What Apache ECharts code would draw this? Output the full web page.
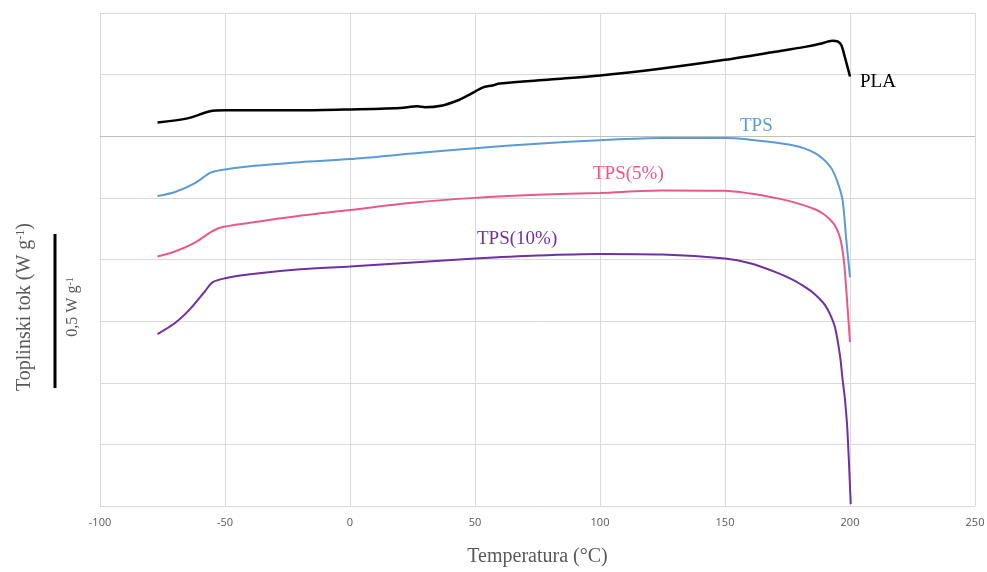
<!DOCTYPE html>
<html>
<head>
<meta charset="utf-8">
<title>DSC krivulje</title>
<script src="https://cdn.jsdelivr.net/npm/echarts@6/dist/echarts.min.js"></script>
<style>
html, body { margin: 0; padding: 0; background: #fff; }
#chart { width: 987px; height: 572px; }
</style>
</head>
<body>
<div id="chart"></div>
<script>
// x ticks
const tempTicks = [-100, -50, 0, 50, 100, 150, 200, 250];

// PLA
const plaTemp = [-77, -65, -56, -50, -20, 0, 20, 27, 30, 37, 43, 47, 50, 53, 57, 60, 80, 100, 124, 150, 170, 182, 188, 191, 193, 195, 196.5, 198, 200];
const plaFlow = [0.045, 0.058, 0.081, 0.084, 0.084, 0.087, 0.092, 0.097, 0.094, 0.100, 0.116, 0.132, 0.145, 0.158, 0.165, 0.171, 0.184, 0.197, 0.219, 0.248, 0.274, 0.290, 0.300, 0.307, 0.310, 0.308, 0.296, 0.255, 0.194];

// TPS
const tpsTemp = [-77, -70, -62, -56, -52, -40, -20, 0, 25, 50, 75, 100, 125, 150, 160, 170, 177, 182, 186, 189, 191, 193, 195, 197, 198.5, 200];
const tpsFlow = [-0.194, -0.181, -0.152, -0.119, -0.110, -0.097, -0.084, -0.074, -0.056, -0.039, -0.024, -0.013, -0.006, -0.006, -0.011, -0.020, -0.029, -0.040, -0.055, -0.072, -0.088, -0.110, -0.148, -0.206, -0.335, -0.458];

// TPS(5%)
const tps5Temp = [-77, -70, -62, -56, -52, -40, -20, 0, 25, 50, 75, 100, 125, 150, 160, 170, 177, 182, 186, 189, 192, 194, 196, 197.5, 198.5, 200];
const tps5Flow = [-0.390, -0.374, -0.345, -0.313, -0.297, -0.281, -0.258, -0.239, -0.216, -0.200, -0.190, -0.184, -0.176, -0.177, -0.186, -0.200, -0.213, -0.225, -0.237, -0.250, -0.270, -0.290, -0.329, -0.400, -0.497, -0.668];

// TPS(10%)
const tps10Temp = [-77, -70, -64, -58, -55, -50, -40, -20, 0, 25, 50, 75, 100, 125, 150, 160, 170, 177, 181, 185, 188, 190, 192, 194, 196, 197, 198, 199, 200.3];
const tps10Flow = [-0.642, -0.606, -0.561, -0.503, -0.474, -0.461, -0.448, -0.432, -0.423, -0.410, -0.397, -0.387, -0.382, -0.384, -0.397, -0.412, -0.440, -0.465, -0.484, -0.506, -0.529, -0.548, -0.577, -0.620, -0.712, -0.787, -0.855, -0.960, -1.194];

const zip = (xs, ys) => xs.map((x, i) => [x, ys[i]]);

const serif = '"Liberation Serif", "DejaVu Serif", serif';
const gridColor = '#d9d9d9';

const makeLine = (name, color, width, data) => ({
  name: name,
  type: 'line',
  data: data,
  showSymbol: false,
  smooth: 0.3,
  lineStyle: { color: color, width: width },
  itemStyle: { color: color },
  z: 3
});

const chart = echarts.init(document.getElementById('chart'));

const option = {
  backgroundColor: '#fff',
  animation: false,
  grid: { left: 100, right: 12, top: 13, bottom: 66, outerBoundsMode: 'none' },
  xAxis: {
    type: 'value',
    min: tempTicks[0],
    max: tempTicks[tempTicks.length - 1],
    interval: 50,
    name: 'Temperatura (°C)',
    nameLocation: 'middle',
    nameGap: 41,
    nameTextStyle: { fontFamily: serif, fontSize: 20, color: '#595959' },
    axisLine: { show: true, lineStyle: { color: gridColor } },
    axisTick: { show: false },
    axisLabel: { color: '#595959', fontSize: 11, margin: 11, fontFamily: '"Open Sans", "Liberation Sans", sans-serif' },
    splitLine: { show: true, lineStyle: { color: gridColor } }
  },
  yAxis: {
    type: 'value',
    min: -1.2,
    max: 0.4,
    interval: 0.2,
    axisLine: { show: true, lineStyle: { color: gridColor } },
    axisTick: { show: false },
    axisLabel: { show: false },
    splitLine: { show: true, lineStyle: { color: gridColor } }
  },
  series: [
    Object.assign(makeLine('PLA', '#000000', 2.5, zip(plaTemp, plaFlow)), {
      markLine: {
        silent: true,
        symbol: 'none',
        label: { show: false },
        lineStyle: { color: '#bfbfbf', width: 1, type: 'solid' },
        data: [{ yAxis: 0 }],
        z: 1
      }
    }),
    makeLine('TPS', '#5b9bd5', 2, zip(tpsTemp, tpsFlow)),
    makeLine('TPS(5%)', '#e8598b', 2, zip(tps5Temp, tps5Flow)),
    makeLine('TPS(10%)', '#7030a0', 2, zip(tps10Temp, tps10Flow))
  ]
};

chart.setOption(option);

// scale bar length: 0.5 W/g on the y axis
const barTop = 234;
const barLen = chart.convertToPixel({ yAxisIndex: 0 }, -0.5) - chart.convertToPixel({ yAxisIndex: 0 }, 0);

const curveLabel = (text, color, left, midY) => ({
  type: 'text',
  left: left,
  top: midY - 11,
  z: 10,
  style: { text: text, fill: color, font: '19px ' + serif }
});

chart.setOption({
  graphic: [
    curveLabel('PLA', '#000000', 860, 84),
    curveLabel('TPS', '#5b9bd5', 740, 128),
    curveLabel('TPS(5%)', '#e8598b', 593, 176),
    curveLabel('TPS(10%)', '#7030a0', 477, 241),
    {
      type: 'line',
      shape: { x1: 55, y1: barTop, x2: 55, y2: barTop + barLen },
      style: { stroke: '#000', lineWidth: 3 },
      z: 10
    },
    {
      type: 'text',
      x: 73, y: 307,
      rotation: Math.PI / 2,
      z: 10,
      style: {
        text: '0,5 W g{sup|-1}',
        align: 'center',
        verticalAlign: 'middle',
        fill: '#595959',
        font: '16px ' + serif,
        rich: { sup: { fontSize: 10, verticalAlign: 'top', fill: '#595959', fontFamily: serif } }
      }
    },
    {
      type: 'text',
      x: 25, y: 307,
      rotation: Math.PI / 2,
      z: 10,
      style: {
        text: 'Toplinski tok (W g{sup|-1})',
        align: 'center',
        verticalAlign: 'middle',
        fill: '#595959',
        font: '20px ' + serif,
        rich: { sup: { fontSize: 12, verticalAlign: 'top', fill: '#595959', fontFamily: serif } }
      }
    }
  ]
});
</script>
</body>
</html>
